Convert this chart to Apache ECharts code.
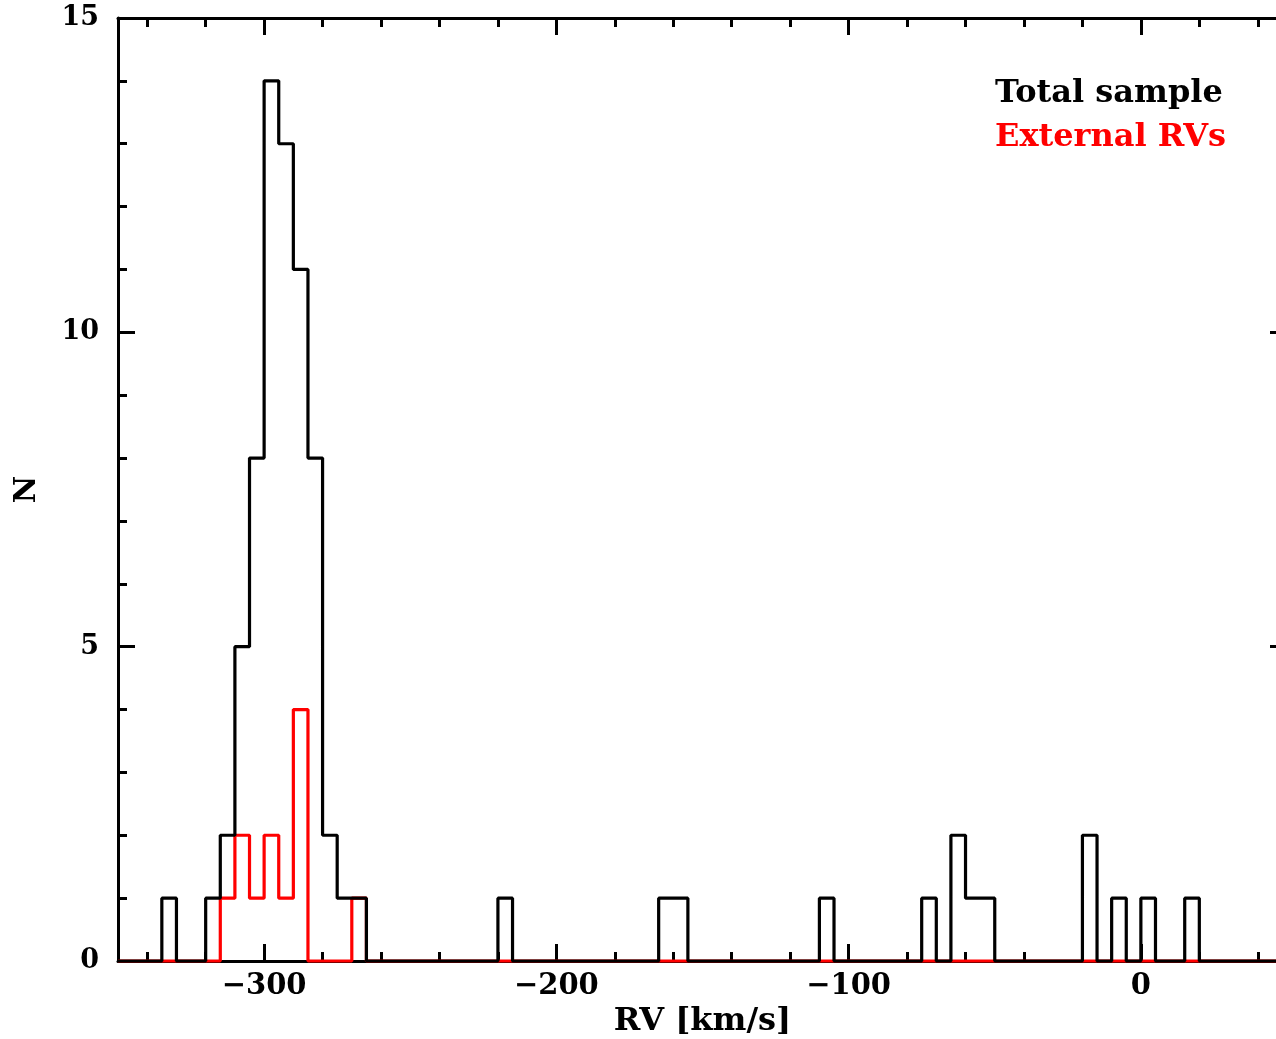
<!DOCTYPE html>
<html>
<head>
<meta charset="utf-8">
<title>RV histogram</title>
<script src="https://cdn.jsdelivr.net/npm/echarts@6/dist/echarts.min.js"></script>
<style>
    html, body { margin: 0; padding: 0; background: #fff; overflow: hidden; }
    #chart { width: 1300px; height: 1039px; }
</style>
</head>
<body>
<div id="chart"></div>
<script>
// histogram bins, 5 km/s wide, value = left edge of the bin
var binWidth = 5;
var rvMin = -350;
var rvMax = 50;

// total sample
var totalBins = [-335, -320, -315, -310, -305, -300, -295, -290, -285, -280, -275, -270,
                 -220, -165, -160, -110, -75, -65, -60, -55, -20, -10, 0, 15];
var totalCounts = [1, 1, 2, 5, 8, 14, 13, 11, 8, 2, 1, 1,
                   1, 1, 1, 1, 1, 2, 1, 1, 2, 1, 1, 1];

// external RVs
var extBins = [-315, -310, -305, -300, -295, -290, -270];
var extCounts = [1, 2, 1, 2, 1, 4, 1];

var yMax = 15;

// 把稀疏的直方图变成阶梯线的点
function stepData(bins, counts) {
    var data = [];
    for (var x = rvMin; x < rvMax; x += binWidth) {
        var idx = bins.indexOf(x);
        data.push([x, idx >= 0 ? counts[idx] : 0]);
    }
    data.push([rvMax, 0]);
    return data;
}

var font = 'DejaVu Serif';

var frameAxis = {
    axisLine: { show: true, onZero: false, lineStyle: { color: '#000', width: 3 } },
    axisTick: { show: true, inside: true, length: 17, lineStyle: { color: '#000', width: 3 } },
    minorTick: { show: true, splitNumber: 5, length: 9, lineStyle: { color: '#000', width: 3 } },
    splitLine: { show: false }
};

function xAxisOf(pos, labels) {
    return {
        type: 'value', position: pos,
        min: rvMin, max: rvMax, minInterval: 100, maxInterval: 100,
        axisLine: frameAxis.axisLine, axisTick: frameAxis.axisTick,
        minorTick: frameAxis.minorTick, splitLine: frameAxis.splitLine,
        name: labels ? 'RV [km/s]' : '',
        nameLocation: 'middle', nameGap: 44,
        nameTextStyle: { fontFamily: font, fontWeight: 'bold', fontSize: 32, color: '#000' },
        axisLabel: {
            show: labels, margin: 11, showMinLabel: false, showMaxLabel: false,
            fontFamily: font, fontWeight: 'bold', fontSize: 29, color: '#000',
            formatter: function (v) { return v < 0 ? '\u2212' + (-v) : '' + v; }
        }
    };
}

function yAxisOf(pos, labels) {
    return {
        type: 'value', position: pos,
        min: 0, max: yMax, interval: 5,
        axisLine: frameAxis.axisLine, axisTick: frameAxis.axisTick,
        minorTick: frameAxis.minorTick, splitLine: frameAxis.splitLine,
        name: labels ? 'N' : '',
        nameLocation: 'middle', nameGap: 76,
        nameTextStyle: { fontFamily: font, fontWeight: 'bold', fontSize: 30, color: '#000' },
        axisLabel: {
            show: labels, margin: 19,
            fontFamily: font, fontWeight: 'bold', fontSize: 27, color: '#000'
        }
    };
}

var myChart = echarts.init(document.getElementById('chart'));
var option = {
    animation: false,
    backgroundColor: '#fff',
    grid: { left: 118, right: 13, top: 18, bottom: 78, containLabel: false, outerBoundsMode: 'none' },
    xAxis: [xAxisOf('bottom', true), xAxisOf('top', false)],
    yAxis: [yAxisOf('left', true), yAxisOf('right', false)],
    graphic: [
        {
            type: 'text', left: 995, top: 78,
            style: { text: 'Total sample', fill: '#000', font: 'bold 32px "' + font + '"' }
        },
        {
            type: 'text', left: 995, top: 122,
            style: { text: 'External RVs', fill: '#ff0000', font: 'bold 32px "' + font + '"' }
        }
    ],
    series: [
        {
            name: 'External RVs',
            type: 'line', step: 'end', symbol: 'none', clip: false, z: 3,
            lineStyle: { color: '#ff0000', width: 3.2 },
            data: stepData(extBins, extCounts)
        },
        {
            name: 'Total sample',
            type: 'line', step: 'end', symbol: 'none', clip: false, z: 4,
            lineStyle: { color: '#000', width: 3.2 },
            data: stepData(totalBins, totalCounts)
        }
    ]
};
myChart.setOption(option);
</script>
</body>
</html>
